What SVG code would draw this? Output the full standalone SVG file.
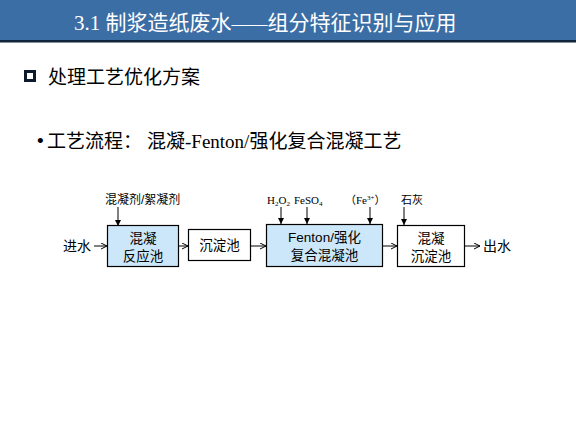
<svg xmlns="http://www.w3.org/2000/svg" width="576" height="432" viewBox="0 0 576 432">
<style>
.cjk{font-family:"Liberation Sans","Noto Sans CJK SC",sans-serif;fill:#000}
.ser{font-family:"Liberation Serif","Noto Sans CJK SC",serif;fill:#000}
.box{stroke:#000;stroke-width:1.2}
.blue{fill:#cce7f9}
.white{fill:#fff}
.conn line{stroke:#000;stroke-width:1}
.bt{font-size:13.5px;text-anchor:middle}
</style>
<defs>
<marker id="ah" markerWidth="8" markerHeight="8" refX="6" refY="3" orient="auto" markerUnits="userSpaceOnUse">
<path d="M0,0 L6,3 L0,6" fill="none" stroke="#000" stroke-width="1"/>
</marker>
<marker id="ad" markerWidth="8" markerHeight="8" refX="6" refY="3" orient="auto" markerUnits="userSpaceOnUse">
<path d="M0,0 L6,3 L0,6 Z" fill="#000"/>
</marker>
</defs>
<rect width="576" height="432" fill="#fff"/>
<g id="header">
<rect x="0" y="0" width="576" height="40" fill="#3c6ea6"/>
<rect x="0" y="40" width="576" height="2.5" fill="#10243c"/>
<text x="74" y="30" class="ser" style="font-size:21px;fill:#fff">3.1 制浆造纸废水<tspan style="font-size:18px">——</tspan>组分特征识别与应用</text>
</g>
<g id="heading">
<rect x="25.5" y="71.5" width="9" height="9" fill="none" stroke="#0d1a2e" stroke-width="3"/>
<text x="48" y="84" class="cjk" style="font-size:19px">处理工艺优化方案</text>
</g>
<g id="subheading">
<text x="37" y="147" class="cjk" style="font-size:19px">•</text>
<text x="47" y="148" class="cjk" style="font-size:19px">工艺流程：</text>
<text x="147" y="148" class="ser" style="font-size:19px">混凝-Fenton/强化复合混凝工艺</text>
</g>
<g class="conn" id="connectors">
<line x1="94" y1="246" x2="107" y2="246" marker-end="url(#ah)"/>
<line x1="178" y1="246" x2="188" y2="246" marker-end="url(#ah)"/>
<line x1="251" y1="246" x2="266" y2="246" marker-end="url(#ah)"/>
<line x1="383" y1="246" x2="397" y2="246" marker-end="url(#ah)"/>
<line x1="465" y1="246" x2="480" y2="246" marker-end="url(#ah)"/>
<line x1="118" y1="207" x2="118" y2="226" marker-end="url(#ad)"/>
<line x1="281" y1="207" x2="281" y2="224" marker-end="url(#ad)"/>
<line x1="307" y1="207" x2="307" y2="224" marker-end="url(#ad)"/>
<line x1="370" y1="207" x2="370" y2="224" marker-end="url(#ad)"/>
<line x1="404" y1="207" x2="404" y2="225" marker-end="url(#ad)"/>
</g>
<g id="labels">
<text x="63" y="251" class="cjk" style="font-size:14px">进水</text>
<text x="483" y="251" class="cjk" style="font-size:14px">出水</text>
<text x="105" y="204" class="cjk" style="font-size:12px">混凝剂/絮凝剂</text>
<text x="267" y="204" class="ser" style="font-size:11px">H<tspan dy="2" style="font-size:7px">2</tspan><tspan dy="-2">O</tspan><tspan dy="2" style="font-size:7px">2</tspan></text>
<text x="294" y="204" class="ser" style="font-size:11px">FeSO<tspan dy="2" style="font-size:7px">4</tspan></text>
<text x="345" y="204" class="ser" style="font-size:11px">（Fe<tspan dy="-4" style="font-size:7px">3+</tspan><tspan dy="4">）</tspan></text>
<text x="401" y="204" class="cjk" style="font-size:11px">石灰</text>
</g>
<g id="node1">
<rect x="107.5" y="225.5" width="71" height="41" class="box blue"/>
<text x="143" y="243" class="cjk bt">混凝</text>
<text x="143" y="261" class="cjk bt">反应池</text>
</g>
<g id="node2">
<rect x="188.5" y="229.5" width="62" height="31" class="box white"/>
<text x="219.5" y="250" class="cjk bt">沉淀池</text>
</g>
<g id="node3">
<rect x="266.5" y="224.5" width="116" height="42" class="box blue"/>
<text x="324.5" y="242" class="cjk bt">Fenton/强化</text>
<text x="324.5" y="260" class="cjk bt">复合混凝池</text>
</g>
<g id="node4">
<rect x="397.5" y="225.5" width="67" height="41" class="box white"/>
<text x="431" y="243" class="cjk bt">混凝</text>
<text x="431" y="261" class="cjk bt">沉淀池</text>
</g>
</svg>
